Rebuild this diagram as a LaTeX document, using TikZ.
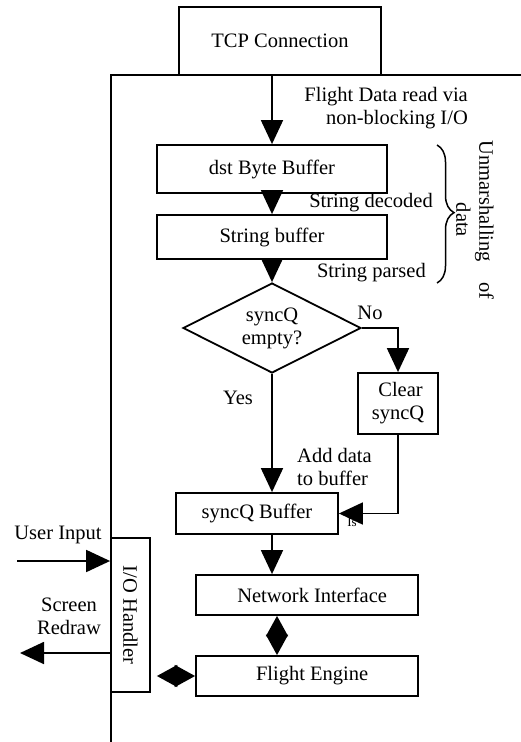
\documentclass[tikz,border=0pt]{standalone}
\usepackage{fontspec}
\setmainfont{Liberation Serif}
\usetikzlibrary{arrows.meta,shapes.geometric,decorations.pathreplacing}
\begin{document}
\begin{tikzpicture}[x=1pt,y=-1pt,
  every node/.style={font=\fontsize{20.5}{23}\selectfont},
  box/.style={draw,line width=1.8pt,inner sep=0pt,align=center},
  lbl/.style={inner sep=0pt,align=center},
  conn/.style={line width=1.8pt,-{Triangle[length=24pt,width=22pt]}},
  plain/.style={line width=1.8pt},
  dbl/.style={line width=1.8pt,{Triangle[length=20.5pt,width=22pt]}-{Triangle[length=20.5pt,width=22pt]}}]
\useasboundingbox (0,0) rectangle (521,742);

% frame
\coordinate (fbot) at (111,742);
\coordinate (ftl) at (111,75);
\coordinate (fright) at (521,75);
\draw[plain] (fbot) -- (ftl) -- (fright);

% nodes
\node[box,minimum width=202pt,minimum height=68pt] (tcp) at (280,41) {TCP Connection};
\node[box,minimum width=230pt,minimum height=48pt] (dst) at (272,169) {dst Byte Buffer};
\node[box,minimum width=230pt,minimum height=44pt] (str) at (272,237) {String buffer};
\node[box,diamond,aspect=2,minimum width=178pt,minimum height=90pt] (dia) at (272,328) {syncQ\\empty?};
\node[box,minimum width=80pt,minimum height=61pt] (clr) at (398,403.5) {~Clear\\syncQ};
\node[lbl,font=\fontsize{13}{14}\selectfont] (is) at (352,522) {Is};
\node[box,minimum width=162pt,minimum height=41pt] (sq) at (257,513.5) {syncQ Buffer};
\node[box,minimum width=222pt,minimum height=40pt] (ni) at (307,595) {~~Network Interface};
\node[box,minimum width=222pt,minimum height=40pt] (fe) at (307,676) {~~Flight Engine};
\node[box,minimum width=39pt,minimum height=154pt] (io) at (130.5,615) {};
\node[lbl,rotate=-90] (iot) at (io.center) {I/O Handler};

% labels
\node[lbl,anchor=east,align=right] (fd) at (468,108) {Flight Data read via\\non-blocking I/O};
\node[lbl,anchor=east] (sd) at (433,203) {String decoded};
\node[lbl,anchor=east] (sp) at (426,273) {String parsed};
\node[lbl,rotate=-90] (um) at (475,220) {Unmarshalling~~~~of\\data};
\node[lbl] (no) at (370,313) {No};
\node[lbl] (yes) at (238,398) {Yes};
\node[lbl,anchor=west,align=left] (add) at (297,467) {Add data\\to buffer};
\node[lbl] (ui) at (58,535) {User Input};
\node[lbl] (sr) at (69,616) {Screen\\Redraw};

% brace
\coordinate (bt) at (437,145);
\coordinate (bb) at (437,283);
\draw[line width=1.5pt,decorate,decoration={brace,amplitude=17pt,aspect=0.49}] (bt) -- (bb);

% connectors
\draw[conn] (dst.north |- tcp.south) -- (dst.north);
\draw[conn] (dst.south) -- (str.north);
\draw[conn] (str.south) -- (dia.north);
\draw[conn] (dia.east) -| (clr.north);
\draw[conn] (clr.south) |- (sq.east);
\draw[conn] (dia.south) -- (dia.south |- sq.north);
\draw[conn] (sq.south -| dst.south) -- (ni.north -| dst.south);
\draw[dbl] ([xshift=-30pt]ni.south) -- ([xshift=-30pt]fe.north);
\draw[dbl,shorten <=6pt] (fe.west -| io.east) -- (fe.west);

\coordinate (uis) at (17,561);
\draw[conn] (uis) -- (uis -| io.west);
\coordinate (sre) at (20,653);
\draw[conn] (sre -| io.west) -- (sre);
\end{tikzpicture}
\end{document}
